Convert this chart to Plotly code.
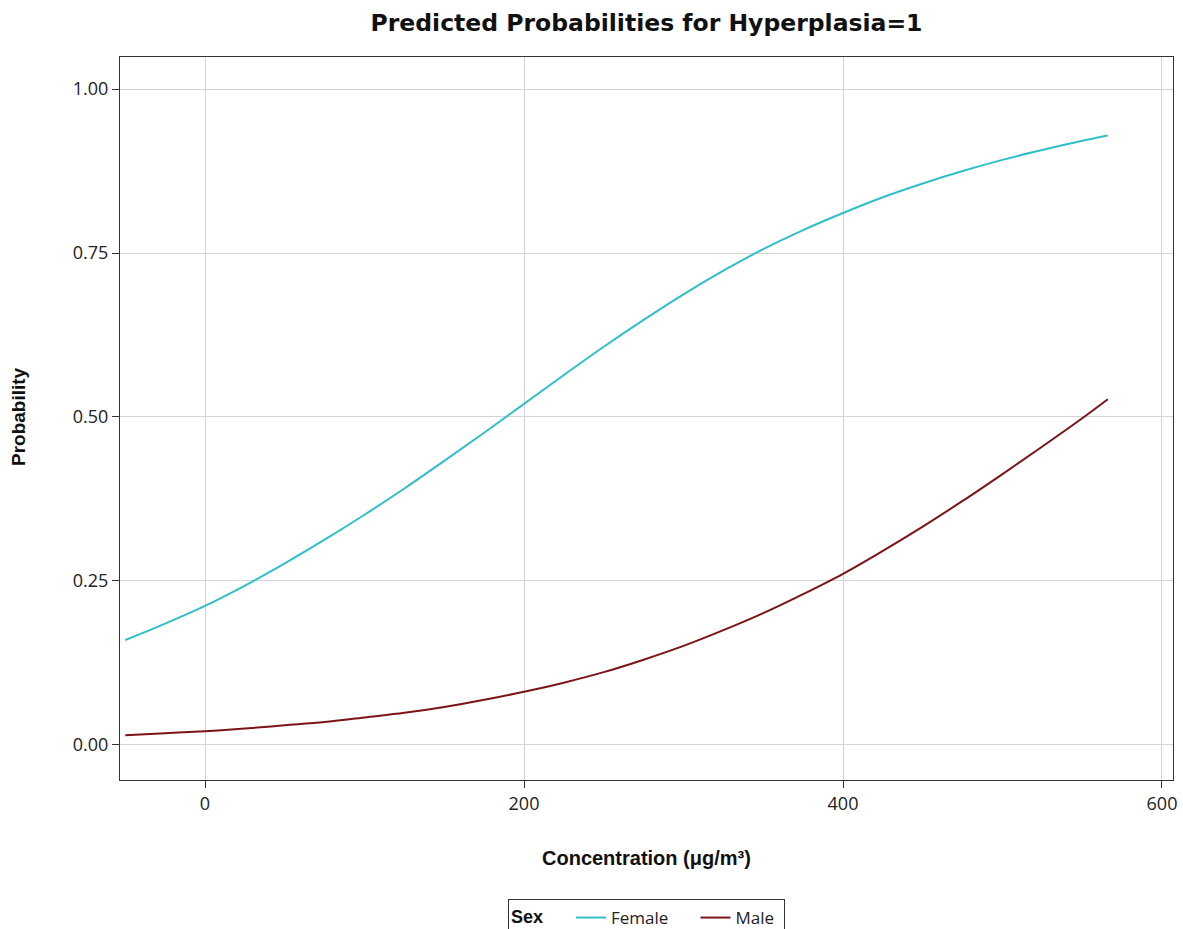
import plotly.graph_objects as go

concentration = [-50, -25, 0, 25, 50, 75, 100, 125, 150, 175, 200, 225, 250, 275, 300,
                 325, 350, 375, 400, 425, 450, 475, 500, 525, 550, 566]
female_prob = [0.160, 0.185, 0.212, 0.243, 0.277, 0.313, 0.351, 0.391, 0.433, 0.476, 0.520,
               0.564, 0.607, 0.648, 0.687, 0.723, 0.756, 0.785, 0.811, 0.835, 0.856, 0.875,
               0.892, 0.907, 0.921, 0.929]
male_prob = [0.015, 0.018, 0.021, 0.025, 0.030, 0.035, 0.042, 0.049, 0.058, 0.069, 0.081,
             0.095, 0.111, 0.130, 0.151, 0.175, 0.201, 0.230, 0.261, 0.296, 0.333, 0.372,
             0.413, 0.455, 0.498, 0.527]
x_ticks = [0, 200, 400, 600]
y_ticks = [0.0, 0.25, 0.5, 0.75, 1.0]

NB = "\u00a0"

fig = go.Figure()
fig.add_trace(go.Scatter(x=concentration, y=female_prob, mode="lines", name="Female" + NB * 5,
                         line=dict(color="#2fbfc9", width=2, shape="spline")))
fig.add_trace(go.Scatter(x=concentration, y=male_prob, mode="lines", name="Male" + NB,
                         line=dict(color="#7b1416", width=2, shape="spline")))

axis_common = dict(showline=True, linecolor="#333333", linewidth=1, mirror=True,
                   ticks="outside", ticklen=7, tickcolor="#333333",
                   showgrid=True, gridcolor="#d4d4d4", gridwidth=1, zeroline=False,
                   tickfont=dict(family="Open Sans, Liberation Sans, sans-serif", size=18, color="#222222"))

fig.update_xaxes(range=[-53.3, 606.9], tickvals=x_ticks, **axis_common)
fig.update_yaxes(range=[-0.0534, 1.0488], tickvals=y_ticks, tickformat=".2f", **axis_common)

fig.update_layout(
    width=1183, height=929,
    margin=dict(l=120, r=10, t=57, b=149, autoexpand=False),
    plot_bgcolor="white", paper_bgcolor="white",
    title=dict(text="<b>Predicted Probabilities for Hyperplasia=1</b>", x=(120 + 1173) / 2 / 1183, xanchor="center",
               y=1 - 23 / 929, yanchor="middle",
               font=dict(family="DejaVu Sans, sans-serif", size=23.5, color="#111111")),
    legend=dict(orientation="h", x=0.5, xanchor="center", y=(780 - 899) / 723, yanchor="top",
                bordercolor="#333333", borderwidth=1,
                font=dict(family="Open Sans, Liberation Sans, sans-serif", size=17, color="#222222"),
                title=dict(text="<b>Sex</b>" + NB * 4, side="left",
                           font=dict(family="Liberation Sans Narrow, Liberation Sans, sans-serif", size=18, color="#111111"))),
    annotations=[
        dict(text="<b>Concentration (μg/m³)</b>", xref="paper", yref="paper",
             x=0.5, y=(780 - 858) / 723, xanchor="center", yanchor="middle", showarrow=False,
             font=dict(family="Liberation Sans Narrow, Liberation Sans, sans-serif", size=20, color="#111111")),
        dict(text="<b>Probability</b>", xref="paper", yref="paper", textangle=-90,
             x=(18 - 120) / 1053, y=(780 - 417) / 723, xanchor="center", yanchor="middle", showarrow=False,
             font=dict(family="Liberation Sans Narrow, Liberation Sans, sans-serif", size=19, color="#111111")),
    ],
)

fig.write_html("out.html")
